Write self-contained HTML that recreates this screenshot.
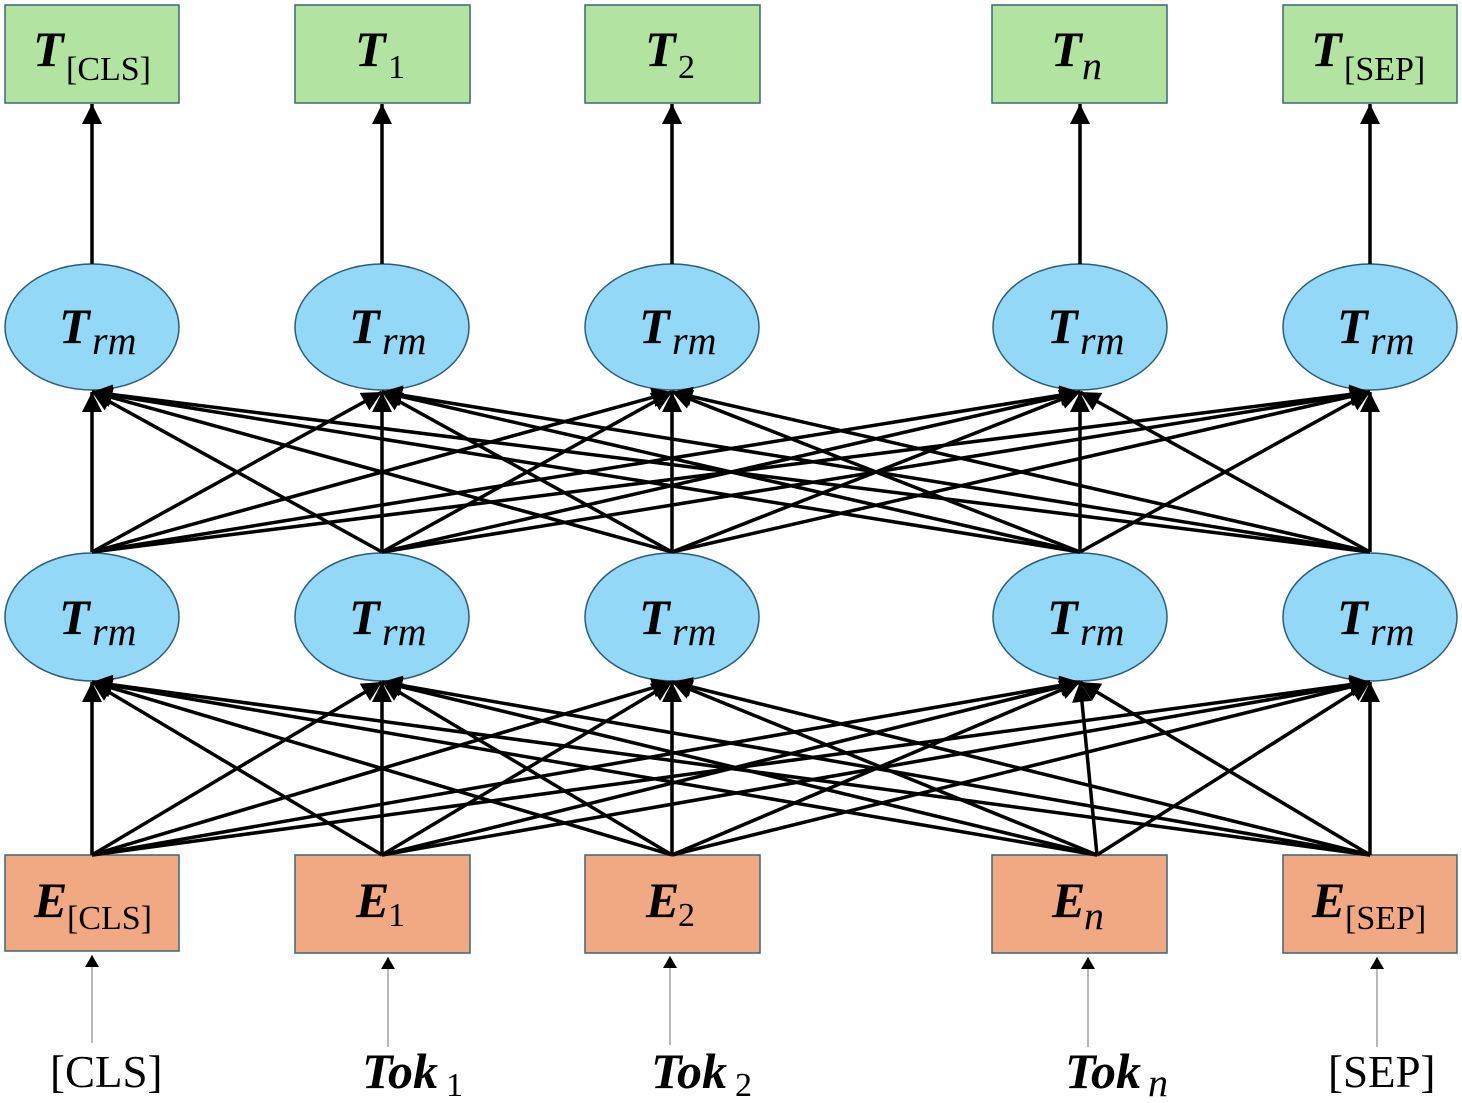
<!DOCTYPE html>
<html><head><meta charset="utf-8"><style>
html,body{margin:0;padding:0;background:#fff;}
svg{display:block;}
.m{font-family:"Liberation Serif",serif;font-weight:bold;font-style:italic;font-size:50px;fill:#000;}
.s{font-family:"Liberation Serif",serif;font-size:34px;fill:#000;}
.si{font-family:"Liberation Serif",serif;font-style:italic;font-size:40px;fill:#000;}
.l{font-family:"Liberation Serif",serif;font-size:45px;fill:#000;}
</style></head><body>
<svg width="1462" height="1103" viewBox="0 0 1462 1103" xmlns="http://www.w3.org/2000/svg">
<defs>
<marker id="a" markerUnits="userSpaceOnUse" markerWidth="24" markerHeight="24" refX="20" refY="10" orient="auto"><path d="M0,0 L20,10 L0,20 z" fill="#000"/></marker>
<marker id="b" markerUnits="userSpaceOnUse" markerWidth="16" markerHeight="16" refX="12" refY="7" orient="auto"><path d="M0,0 L12,7 L0,14 z" fill="#000"/></marker>
</defs>
<g fill="#b3e3a0" stroke="#3d6677" stroke-width="1.5">
<rect x="5" y="5" width="174" height="98"/><rect x="295" y="5" width="175" height="98"/><rect x="585" y="5" width="175" height="98"/><rect x="992" y="5" width="175" height="98"/><rect x="1283" y="5" width="174" height="98"/>
</g>
<g fill="#f0a983" stroke="#3d6677" stroke-width="1.5">
<rect x="5" y="855" width="174" height="96"/><rect x="295" y="855" width="175" height="98"/><rect x="585" y="855" width="175" height="98"/><rect x="992" y="855" width="175" height="98"/><rect x="1283" y="855" width="174" height="98"/>
</g>
<g fill="#93d8f6" stroke="#2c5d74" stroke-width="1.5">
<ellipse cx="92" cy="327" rx="87" ry="63"/><ellipse cx="382" cy="327" rx="87" ry="63"/><ellipse cx="672" cy="327" rx="87" ry="63"/><ellipse cx="1080" cy="327" rx="87" ry="63"/><ellipse cx="1370" cy="327" rx="87" ry="63"/>
<ellipse cx="92" cy="617" rx="87" ry="64"/><ellipse cx="382" cy="617" rx="87" ry="64"/><ellipse cx="672" cy="617" rx="87" ry="64"/><ellipse cx="1080" cy="617" rx="87" ry="64"/><ellipse cx="1370" cy="617" rx="87" ry="64"/>
</g>
<g stroke="#000" stroke-width="3.5" marker-end="url(#a)">
<line x1="92" y1="264" x2="92" y2="104"/><line x1="382" y1="264" x2="382" y2="104"/><line x1="672" y1="264" x2="672" y2="104"/><line x1="1080" y1="264" x2="1080" y2="104"/><line x1="1370" y1="264" x2="1370" y2="104"/>
<line x1="92" y1="552" x2="92" y2="392"/><line x1="92" y1="552" x2="382" y2="392"/><line x1="92" y1="552" x2="672" y2="392"/><line x1="92" y1="552" x2="1080" y2="392"/><line x1="92" y1="552" x2="1370" y2="392"/>
<line x1="382" y1="552" x2="92" y2="392"/><line x1="382" y1="552" x2="382" y2="392"/><line x1="382" y1="552" x2="672" y2="392"/><line x1="382" y1="552" x2="1080" y2="392"/><line x1="382" y1="552" x2="1370" y2="392"/>
<line x1="672" y1="552" x2="92" y2="392"/><line x1="672" y1="552" x2="382" y2="392"/><line x1="672" y1="552" x2="672" y2="392"/><line x1="672" y1="552" x2="1080" y2="392"/><line x1="672" y1="552" x2="1370" y2="392"/>
<line x1="1080" y1="552" x2="92" y2="392"/><line x1="1080" y1="552" x2="382" y2="392"/><line x1="1080" y1="552" x2="672" y2="392"/><line x1="1080" y1="552" x2="1080" y2="392"/><line x1="1080" y1="552" x2="1370" y2="392"/>
<line x1="1370" y1="552" x2="92" y2="392"/><line x1="1370" y1="552" x2="382" y2="392"/><line x1="1370" y1="552" x2="672" y2="392"/><line x1="1370" y1="552" x2="1080" y2="392"/><line x1="1370" y1="552" x2="1370" y2="392"/>
<line x1="92" y1="855" x2="92" y2="682"/><line x1="92" y1="855" x2="382" y2="682"/><line x1="92" y1="855" x2="672" y2="682"/><line x1="92" y1="855" x2="1080" y2="682"/><line x1="92" y1="855" x2="1370" y2="682"/>
<line x1="382" y1="855" x2="92" y2="682"/><line x1="382" y1="855" x2="382" y2="682"/><line x1="382" y1="855" x2="672" y2="682"/><line x1="382" y1="855" x2="1080" y2="682"/><line x1="382" y1="855" x2="1370" y2="682"/>
<line x1="672" y1="855" x2="92" y2="682"/><line x1="672" y1="855" x2="382" y2="682"/><line x1="672" y1="855" x2="672" y2="682"/><line x1="672" y1="855" x2="1080" y2="682"/><line x1="672" y1="855" x2="1370" y2="682"/>
<line x1="1097" y1="855" x2="92" y2="682"/><line x1="1097" y1="855" x2="382" y2="682"/><line x1="1097" y1="855" x2="672" y2="682"/><line x1="1097" y1="855" x2="1080" y2="682"/><line x1="1097" y1="855" x2="1370" y2="682"/>
<line x1="1370" y1="855" x2="92" y2="682"/><line x1="1370" y1="855" x2="382" y2="682"/><line x1="1370" y1="855" x2="672" y2="682"/><line x1="1370" y1="855" x2="1080" y2="682"/><line x1="1370" y1="855" x2="1370" y2="682"/>
</g>
<g stroke="#888" stroke-width="1.2" marker-end="url(#b)">
<line x1="92" y1="1043" x2="92" y2="955"/><line x1="388" y1="1047" x2="388" y2="957"/><line x1="670" y1="1045" x2="670" y2="956"/><line x1="1088" y1="1047" x2="1088" y2="957"/><line x1="1377" y1="1047" x2="1377" y2="957"/>
</g>
<text x="33" y="66" class="m">T</text><text x="66" y="80" class="s">[CLS]</text>
<text x="355" y="66" class="m">T</text><text x="388" y="78" class="s">1</text>
<text x="645" y="66" class="m">T</text><text x="678" y="78" class="s">2</text>
<text x="1051" y="66" class="m">T</text><text x="1082" y="79" class="si">n</text>
<text x="1311" y="66" class="m">T</text><text x="1344" y="80" class="s">[SEP]</text>
<g>
<text x="59" y="343" class="m">T</text><text x="92" y="354" class="si">rm</text>
<text x="349" y="343" class="m">T</text><text x="382" y="354" class="si">rm</text>
<text x="639" y="343" class="m">T</text><text x="672" y="354" class="si">rm</text>
<text x="1047" y="343" class="m">T</text><text x="1080" y="354" class="si">rm</text>
<text x="1337" y="343" class="m">T</text><text x="1370" y="354" class="si">rm</text>
<text x="59" y="634" class="m">T</text><text x="92" y="645" class="si">rm</text>
<text x="349" y="634" class="m">T</text><text x="382" y="645" class="si">rm</text>
<text x="639" y="634" class="m">T</text><text x="672" y="645" class="si">rm</text>
<text x="1047" y="634" class="m">T</text><text x="1080" y="645" class="si">rm</text>
<text x="1337" y="634" class="m">T</text><text x="1370" y="645" class="si">rm</text>
</g>
<text x="34" y="917" class="m">E</text><text x="67" y="929" class="s">[CLS]</text>
<text x="356" y="917" class="m">E</text><text x="388" y="926" class="s">1</text>
<text x="646" y="917" class="m">E</text><text x="678" y="926" class="s">2</text>
<text x="1052" y="917" class="m">E</text><text x="1084" y="929" class="si">n</text>
<text x="1312" y="917" class="m">E</text><text x="1345" y="929" class="s">[SEP]</text>
<text x="50" y="1087" class="l">[CLS]</text>
<text x="362" y="1088" class="m">Tok</text><text x="446" y="1096" class="s">1</text>
<text x="651" y="1088" class="m">Tok</text><text x="735" y="1096" class="s">2</text>
<text x="1065" y="1088" class="m">Tok</text><text x="1148" y="1096" class="si">n</text>
<text x="1328" y="1087" class="l">[SEP]</text>
</svg>
</body></html>
